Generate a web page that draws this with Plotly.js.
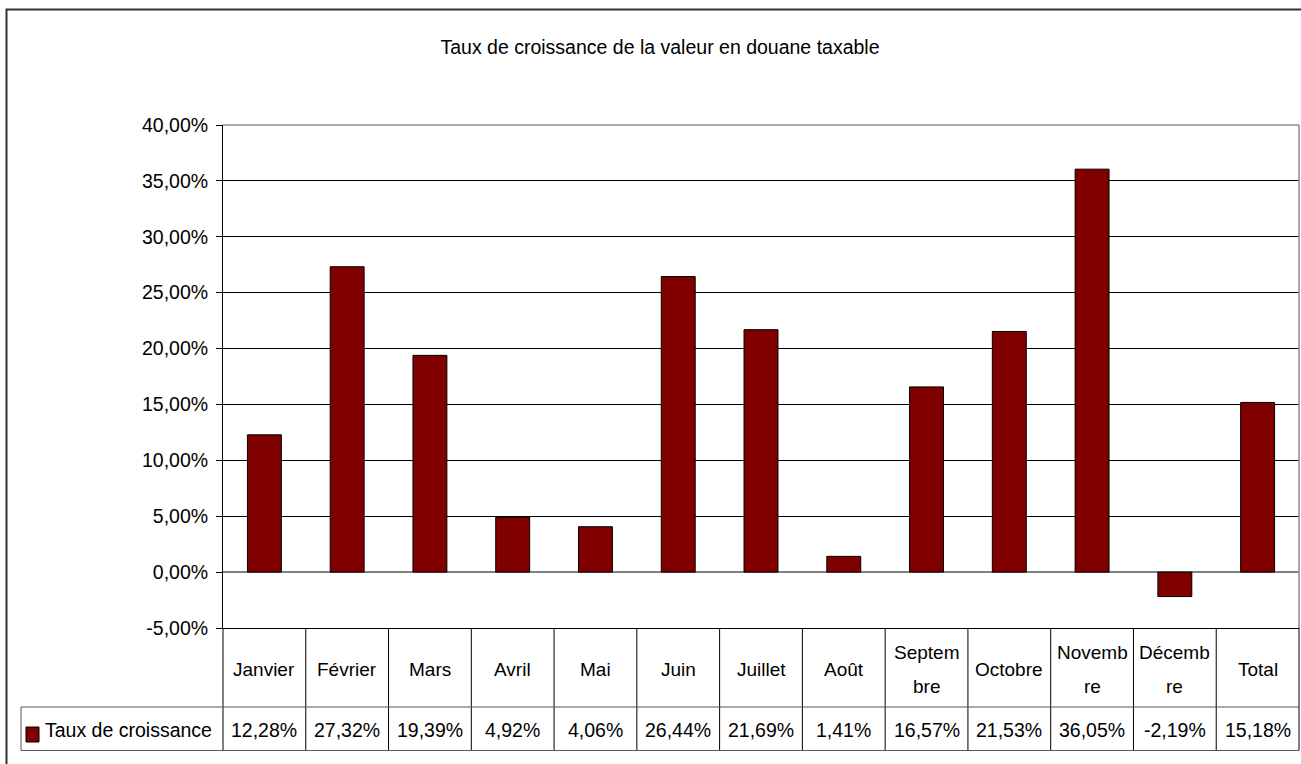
<!DOCTYPE html>
<html>
<head>
<meta charset="utf-8">
<script src="https://cdn.plot.ly/plotly-3.0.1.min.js"></script>
<style>
  html, body { margin: 0; padding: 0; background: #fff; }
  #chart { width: 1301px; height: 764px; }
</style>
</head>
<body>
<div id="chart"></div>
<script>
// ---- data ----
const categories = ['Janvier', 'Février', 'Mars', 'Avril', 'Mai', 'Juin', 'Juillet', 'Août', 'Septembre', 'Octobre', 'Novembre', 'Décembre', 'Total'];
const tableLabels = ['Janvier', 'Février', 'Mars', 'Avril', 'Mai', 'Juin', 'Juillet', 'Août', 'Septem|bre', 'Octobre', 'Novemb|re', 'Décemb|re', 'Total'];
const values = [12.28, 27.32, 19.39, 4.92, 4.06, 26.44, 21.69, 1.41, 16.57, 21.53, 36.05, -2.19, 15.18];
const seriesName = 'Taux de croissance';
const chartTitle = 'Taux de croissance de la valeur en douane taxable';
const yTicks = [-5, 0, 5, 10, 15, 20, 25, 30, 35, 40];

// ---- helpers ----
const fmt = v => v.toFixed(2).replace('.', ',') + '%';
const W = 1301, H = 764;
const M = { l: 223, r: 2, t: 125, b: 136 };
const PW = W - M.l - M.r, PH = H - M.t - M.b;
const px = x => (x - M.l) / PW;
const py = y => (H - M.b - y) / PH;
const n = categories.length;
const FONT = '"Liberation Sans", Arial, sans-serif';
const BAR = '#800000';

const shapes = [];
// outer chart frame
shapes.push({ type: 'rect', xref: 'paper', yref: 'paper', x0: px(6.5), x1: px(1320), y0: py(9.5), y1: py(790), line: { color: '#333', width: 2 } });
// plot area top and right border (gray)
shapes.push({ type: 'line', xref: 'paper', yref: 'paper', x0: 0, x1: 1, y0: 1, y1: 1, line: { color: '#8c8c8c', width: 1.5 } });
shapes.push({ type: 'line', xref: 'paper', yref: 'paper', x0: 1, x1: 1, y0: 0, y1: 1, line: { color: '#8c8c8c', width: 1.5 } });
// data table verticals
for (let k = 0; k <= n; k++) {
  shapes.push({ type: 'line', xref: 'paper', yref: 'paper', x0: k / n, x1: k / n, y0: 0, y1: py(750.5), line: { color: '#000', width: 1 } });
}
// table horizontals
shapes.push({ type: 'line', xref: 'paper', yref: 'paper', x0: px(21), x1: 1, y0: py(707), y1: py(707), line: { color: '#555', width: 1 } });
shapes.push({ type: 'line', xref: 'paper', yref: 'paper', x0: px(21), x1: 1, y0: py(750.5), y1: py(750.5), line: { color: '#555', width: 1 } });
// legend cell left border
shapes.push({ type: 'line', xref: 'paper', yref: 'paper', x0: px(21), x1: px(21), y0: py(707), y1: py(750.5), line: { color: '#555', width: 1 } });
// legend key
shapes.push({ type: 'rect', xref: 'paper', yref: 'paper', x0: px(26), x1: px(39), y0: py(727), y1: py(742), fillcolor: BAR, line: { color: '#000', width: 1 } });

const annotations = [];
categories.forEach((c, i) => {
  const lines = tableLabels[i].split('|');
  const ys = lines.length === 1 ? [669] : [652, 686];
  lines.forEach((t, j) => {
    annotations.push({ xref: 'x', yref: 'paper', x: c, y: py(ys[j]), text: t, showarrow: false, xanchor: 'center', yanchor: 'middle', font: { family: FONT, size: 19, color: '#000' } });
  });
  annotations.push({ xref: 'x', yref: 'paper', x: c, y: py(730), text: fmt(values[i]), showarrow: false, xanchor: 'center', yanchor: 'middle', font: { family: FONT, size: 19.5, color: '#000' } });
});
annotations.push({ xref: 'paper', yref: 'paper', x: px(43), y: py(730), text: seriesName, showarrow: false, xanchor: 'left', yanchor: 'middle', font: { family: FONT, size: 19.5, color: '#000' } });

const trace = {
  type: 'bar',
  x: categories,
  y: values,
  width: 0.41,
  marker: { color: BAR, line: { color: '#000', width: 1 } },
  hoverinfo: 'x+y',
  showlegend: false
};

const layout = {
  width: W, height: H,
  margin: M,
  paper_bgcolor: '#fff', plot_bgcolor: '#fff',
  font: { family: FONT, color: '#000' },
  title: { text: chartTitle, x: 660 / W, xref: 'container', xanchor: 'center', y: 1 - 47 / H, yref: 'container', yanchor: 'middle', font: { family: FONT, size: 19.5, color: '#000' } },
  xaxis: { type: 'category', range: [-0.5, n - 0.5], showticklabels: false, ticks: '', showgrid: false, zeroline: false, showline: true, linecolor: '#000', linewidth: 1, fixedrange: true },
  yaxis: { range: [-5, 40], tickvals: yTicks, ticktext: yTicks.map(fmt), showgrid: true, gridcolor: '#000', gridwidth: 1, zeroline: true, zerolinecolor: '#808080', zerolinewidth: 1.5, showline: true, linecolor: '#000', linewidth: 1, ticks: 'outside', ticklen: 6, tickcolor: '#000', tickfont: { family: FONT, size: 19.5, color: '#000' }, ticklabelstandoff: 4, fixedrange: true },
  shapes: shapes,
  annotations: annotations,
  showlegend: false
};

Plotly.newPlot('chart', [trace], layout, { displayModeBar: false, staticPlot: true });
</script>
</body>
</html>
